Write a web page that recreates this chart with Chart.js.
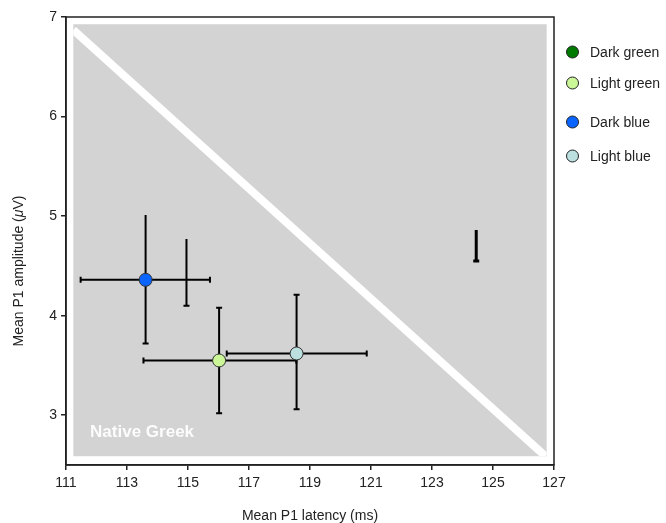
<!DOCTYPE html>
<html>
<head>
<meta charset="utf-8">
<script src="https://cdn.jsdelivr.net/npm/chart.js@4/dist/chart.umd.min.js"></script>
<style>
  html, body { margin: 0; padding: 0; background: #fff; }
  #wrap { width: 666px; height: 523px; position: relative; }
</style>
</head>
<body>
<div id="wrap"><canvas id="chart"></canvas></div>
<script>
// groups shown in the legend
const groups = ["Dark green", "Light green", "Dark blue", "Light blue"];
const groupColors = ["#007a00", "#ccf799", "#0a64ff", "#bcdfe0"];

// means (dark green has no visible marker)
const latency = [null, 116.02, 113.61, 118.56];
const amplitude = [null, 3.55, 4.36, 3.62];

// error ranges
const latencyLow = [null, 113.54, 111.48, 116.27];
const latencyHigh = [null, 118.55, 115.72, 120.86];
const amplitudeLow = [null, 3.02, 3.72, 3.06];
const amplitudeHigh = [null, 4.08, 5.01, 4.21];
const topCap = [false, true, false, true];

// loose vertical bars without a marker
const strayX = [114.95, 124.45];
const strayLow = [4.10, 4.55];
const strayHigh = [4.77, 4.86];

const xTicks = [111, 113, 115, 117, 119, 121, 123, 125, 127];
const yTicks = [3, 4, 5, 6, 7];

// shaded region and diagonal
const regionX = [111.24, 126.76];
const regionY = [2.588, 6.927];
const diagX = [111.24, 126.72];
const diagY = [6.87, 2.588];

const FONT = '"Liberation Sans", Arial, Helvetica, sans-serif';

const backdrop = {
    id: "backdrop",
    beforeDatasetsDraw(chart) {
        const { ctx, scales: { x, y } } = chart;
        const l = x.getPixelForValue(regionX[0]), r = x.getPixelForValue(regionX[1]);
        const t = y.getPixelForValue(regionY[1]), b = y.getPixelForValue(regionY[0]);
        ctx.save();
        ctx.fillStyle = "#d3d3d3";
        ctx.fillRect(l, t, r - l, b - t);

        ctx.beginPath();
        ctx.rect(l, t, r - l, b - t);
        ctx.clip();
        ctx.strokeStyle = "#ffffff";
        ctx.lineWidth = 8;
        ctx.beginPath();
        ctx.moveTo(x.getPixelForValue(diagX[0]), y.getPixelForValue(diagY[0]));
        ctx.lineTo(x.getPixelForValue(diagX[1]), y.getPixelForValue(diagY[1]));
        ctx.stroke();
        ctx.restore();

        ctx.save();
        ctx.fillStyle = "rgba(255,255,255,0.92)";
        ctx.font = "bold 17px " + FONT;
        ctx.textBaseline = "alphabetic";
        ctx.fillText("Native Greek", x.getPixelForValue(111.79), y.getPixelForValue(2.78));
        ctx.restore();

        // error bars
        ctx.save();
        ctx.strokeStyle = "#000";
        const cap = 3;
        const vbar = (px, lo, hi, w, capHi) => {
            const xp = x.getPixelForValue(px);
            const y1 = y.getPixelForValue(lo), y2 = y.getPixelForValue(hi);
            ctx.lineWidth = w;
            ctx.beginPath();
            ctx.moveTo(xp, y1); ctx.lineTo(xp, y2);
            ctx.moveTo(xp - cap, y1); ctx.lineTo(xp + cap, y1);
            if (capHi) { ctx.moveTo(xp - cap, y2); ctx.lineTo(xp + cap, y2); }
            ctx.stroke();
        };
        const hbar = (py, lo, hi) => {
            const yp = y.getPixelForValue(py);
            const x1 = x.getPixelForValue(lo), x2 = x.getPixelForValue(hi);
            ctx.lineWidth = 2;
            ctx.beginPath();
            ctx.moveTo(x1, yp); ctx.lineTo(x2, yp);
            ctx.moveTo(x1, yp - cap); ctx.lineTo(x1, yp + cap);
            ctx.moveTo(x2, yp - cap); ctx.lineTo(x2, yp + cap);
            ctx.stroke();
        };
        for (let i = 0; i < groups.length; i++) {
            if (latency[i] === null) continue;
            vbar(latency[i], amplitudeLow[i], amplitudeHigh[i], 2, topCap[i]);
            hbar(amplitude[i], latencyLow[i], latencyHigh[i]);
        }
        strayX.forEach((sx, i) => vbar(sx, strayLow[i], strayHigh[i], i === 1 ? 3 : 2, false));
        ctx.restore();
    },
    afterDraw(chart) {
        const { ctx, chartArea: a } = chart;
        ctx.save();
        // frame
        ctx.strokeStyle = "#222";
        ctx.lineWidth = 1.5;
        ctx.strokeRect(a.left, a.top, a.right - a.left, a.bottom - a.top);

        // y title with italic mu
        ctx.translate(19, 271);
        ctx.rotate(-Math.PI / 2);
        ctx.fillStyle = "#222";
        ctx.textBaseline = "middle";
        const parts = [["Mean P1 amplitude (", ""], ["\u03bc", "italic "], ["V)", ""]];
        let total = 0;
        parts.forEach(p => { ctx.font = p[1] + "14px " + FONT; total += ctx.measureText(p[0]).width; });
        let cx = -total / 2;
        parts.forEach(p => {
            ctx.font = p[1] + "14px " + FONT;
            ctx.fillText(p[0], cx, 0);
            cx += ctx.measureText(p[0]).width;
        });
        ctx.restore();

        // legend
        const legendY = [52, 83, 122, 156];
        ctx.save();
        ctx.font = "14px " + FONT;
        ctx.textBaseline = "middle";
        groups.forEach((g, i) => {
            ctx.beginPath();
            ctx.arc(572.5, legendY[i], 6, 0, Math.PI * 2);
            ctx.fillStyle = groupColors[i];
            ctx.fill();
            ctx.lineWidth = 1;
            ctx.strokeStyle = "#222";
            ctx.stroke();
            ctx.fillStyle = "#222";
            ctx.fillText(g, 590, legendY[i] + 1);
        });
        ctx.restore();
    }
};

const datasets = groups.map((g, i) => ({
    label: g,
    data: latency[i] === null ? [] : [{ x: latency[i], y: amplitude[i] }],
    pointRadius: 6.5,
    pointBackgroundColor: groupColors[i],
    pointBorderColor: "#333",
    pointBorderWidth: 1,
    showLine: false
}));

new Chart(document.getElementById("chart"), {
    type: "scatter",
    data: { datasets: datasets },
    options: {
        responsive: true,
        maintainAspectRatio: false,
        animation: false,
        layout: { padding: { top: 17, right: 112, left: 0, bottom: 0 } },
        plugins: { legend: { display: false }, tooltip: { enabled: false } },
        scales: {
            x: {
                min: 111, max: 127,
                afterBuildTicks: s => { s.ticks = xTicks.map(v => ({ value: v })); },
                afterFit: s => { s.height = 58; },
                grid: { drawOnChartArea: false, tickLength: 5, color: "#222", lineWidth: 1.5 },
                border: { color: "#222", width: 1.5 },
                ticks: { color: "#222", font: { family: FONT, size: 14 }, padding: 5, maxRotation: 0 },
                title: { display: true, text: "Mean P1 latency (ms)", color: "#222",
                         font: { family: FONT, size: 14, lineHeight: 1 }, padding: { top: 0, bottom: 0 } }
            },
            y: {
                min: 2.5, max: 7,
                afterBuildTicks: s => { s.ticks = yTicks.map(v => ({ value: v })); },
                afterFit: s => { s.width = 66; },
                grid: { drawOnChartArea: false, tickLength: 5, color: "#222", lineWidth: 1.5 },
                border: { color: "#222", width: 1.5 },
                ticks: { color: "#222", font: { family: FONT, size: 14 }, padding: 4 }
            }
        }
    },
    plugins: [backdrop]
});
</script>
</body>
</html>
